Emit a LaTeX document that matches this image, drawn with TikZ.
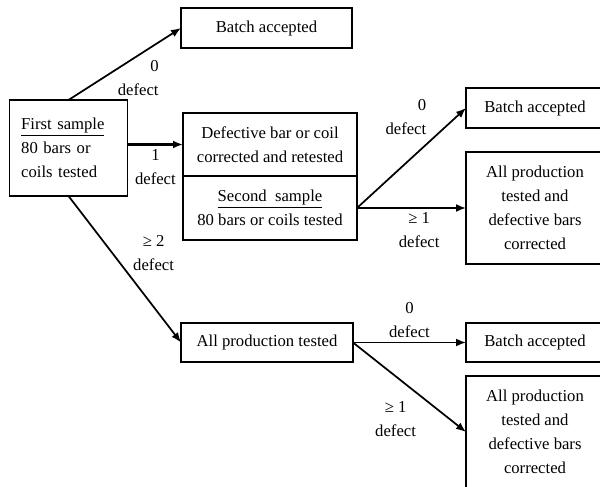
\documentclass[tikz,border=0pt]{standalone}
\usepackage{fontspec}
\setmainfont{Liberation Serif}
\usetikzlibrary{arrows.meta,positioning}

\begin{document}
\begin{tikzpicture}[
    x=0.75pt, y=-0.75pt,
    font=\fontsize{12.5}{18}\selectfont,
    box/.style={rectangle, draw, line width=0.9pt, outer sep=0pt, align=center, inner sep=2pt},
    sidebox/.style={box, minimum width=103.5pt},
    arrow/.style={-{Latex[length=7.5pt,width=6pt]}, line width=1.3pt},
    lbl/.style={align=center, inner sep=3pt}
]
    \useasboundingbox (0,0) rectangle (600,486);
    \clip (0,0) rectangle (600,486);

    \node[box, align=left, text width=71pt, minimum height=72pt, inner xsep=9pt] (first) at (68.5,148) {\underline{First sample}\\80 bars or\\coils tested};
    \node[box, minimum width=128.25pt, minimum height=30pt] (acc1) at (266.5,28) {Batch accepted};
    \node[box, minimum width=130.5pt, minimum height=47.25pt] (defect) at (270,144.5) {Defective bar or coil\\corrected and retested};
    \node[box, minimum width=130.5pt, minimum height=48pt, below=0pt of defect] (second) {\underline{Second~ sample}\\80 bars or coils tested};
    \node[box, minimum width=129pt, minimum height=29.25pt] (allprod) at (267,342.5) {All production tested};
    \node[sidebox, minimum height=84pt, right=81.75pt of second] (allprod2) {All production\\tested and\\defective bars\\corrected};
    \node[sidebox, minimum height=30pt, above=18pt of allprod2] (acc2) {Batch accepted};
    \node[sidebox, minimum height=29.25pt, right=84.75pt of allprod] (acc3) {Batch accepted};
    \node[sidebox, minimum height=84pt, below=10.5pt of acc3] (allprod3) {All production\\tested and\\defective bars\\corrected};

    \draw[arrow] (first.north) -- node[lbl, pos=0.62, anchor=north, align=right] {0\\defect} (acc1.west);
    \draw[arrow, line width=1.8pt] (first.east |- defect.west) -- node[lbl, below] {1\\defect} (defect.west);
    \draw[arrow] (first.south) -- node[lbl, pos=0.39, right, xshift=12pt] {≥ 2\\defect} (allprod.west);
    \draw[arrow] (second.east) -- node[lbl, pos=0.68, anchor=south east, align=right] {0\\defect} (acc2.west);
    \draw[arrow] (second.east) -- node[lbl, pos=0.57, below] {≥ 1\\defect} (allprod2.west);
    \draw[arrow] (allprod.east) -- node[lbl, above] {0\\defect} (acc3.west);
    \draw[arrow] (allprod.east) -- node[lbl, pos=0.6, anchor=north east] {≥ 1\\defect} (allprod3.west);
\end{tikzpicture}
\end{document}
